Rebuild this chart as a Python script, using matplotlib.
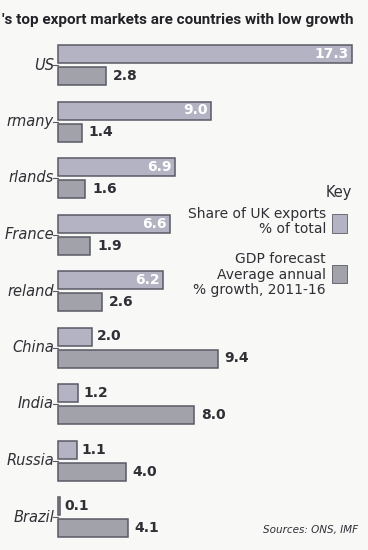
import matplotlib.pyplot as plt
import numpy as np

countries = ["US", "rmany", "rlands", "France", "reland", "China", "India", "Russia", "Brazil"]
exports_share = [17.3, 9.0, 6.9, 6.6, 6.2, 2.0, 1.2, 1.1, 0.1]
gdp_growth = [2.8, 1.4, 1.6, 1.9, 2.6, 9.4, 8.0, 4.0, 4.1]

title = "'s top export markets are countries with low growth"
key_lines = ["Share of UK exports", "% of total", "GDP forecast",
             "Average annual", "% growth, 2011-16"]

exp_col = "#b3b3c4"
gdp_col = "#a2a2aa"
edge = "#5a5a66"
txt = "#2f2f36"

fig = plt.figure(figsize=(3.68, 5.5), dpi=100)
fig.patch.set_facecolor("#f8f8f6")
ax = fig.add_axes([0, 0, 1, 1])
ax.set_facecolor("#f8f8f6")

# x in data units, y in pixel rows
px = 17.0
x0 = -58 / px
ax.set_xlim(x0, x0 + 368 / px)
ax.set_ylim(550, 0)
ax.axis("off")

centers = 65 + 56.5 * np.arange(len(countries))
h = 18
y_exp = centers - 11
y_gdp = centers + 11

ax.barh(y_exp, exports_share, height=h, color=exp_col, edgecolor=edge, linewidth=1.1)
ax.barh(y_gdp, gdp_growth, height=h, color=gdp_col, edgecolor=edge, linewidth=1.1)

for i, name in enumerate(countries):
    ax.text(-4 / px, centers[i], name, ha="right", va="center", fontsize=10.5,
            style="italic", color=txt)
    ax.plot([-5 / px, 0], [centers[i], centers[i]], color=edge, lw=0.8)

    v = exports_share[i]
    if v > 4:
        ax.text(v - 0.2, y_exp[i], f"{v:.1f}", ha="right", va="center", fontsize=10,
                fontweight="bold", color="white")
    else:
        ax.text(v + 0.3, y_exp[i], f"{v:.1f}", ha="left", va="center", fontsize=10,
                fontweight="bold", color=txt)
    g = gdp_growth[i]
    ax.text(g + 0.4, y_gdp[i], f"{g:.1f}", ha="left", va="center", fontsize=10,
            fontweight="bold", color=txt)

# title: condensed bold, shrunk to fit the width
t = ax.text(x0 + 2 / px, 20, title, ha="left", va="center", fontsize=13,
            fontweight="bold", color="#222228",
            family=["Liberation Sans Narrow", "DejaVu Sans Condensed", "Roboto"])
fig.canvas.draw()
w = t.get_window_extent().width
if w > 352:
    t.set_fontsize(13 * 352 / w)

# key
kx = x0 + 326 / px
ax.text(x0 + 352 / px, 192, "Key", ha="right", va="center", fontsize=10.5, color=txt)
for s, yy in zip(key_lines, [214, 229, 259, 275, 290]):
    ax.text(kx, yy, s, ha="right", va="center", fontsize=10, color=txt)
ax.barh([223], [15 / px], left=x0 + 332 / px, height=19, color=exp_col,
        edgecolor=edge, lw=0.6)
ax.barh([274], [15 / px], left=x0 + 332 / px, height=18, color=gdp_col,
        edgecolor=edge, lw=0.6)

ax.text(x0 + 358 / px, 530, "Sources: ONS, IMF", ha="right", va="center", fontsize=7.5,
        style="italic", color=txt)

fig.savefig("out.png", dpi=100, facecolor=fig.get_facecolor())
